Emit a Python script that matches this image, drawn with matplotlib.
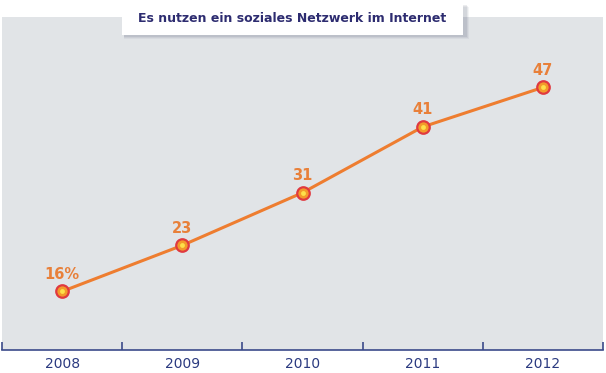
import matplotlib.pyplot as plt
from matplotlib.patches import Rectangle

years = ['2008', '2009', '2010', '2011', '2012']
share = [16, 23, 31, 41, 47]
point_labels = ['16%', '23', '31', '41', '47']
title = 'Es nutzen ein soziales Netzwerk im Internet'

W, H = 606, 373
fig = plt.figure(figsize=(W / 100, H / 100), dpi=100)
fig.patch.set_facecolor('white')

# gray panel = axes
ax = fig.add_axes([2 / W, (H - 350) / H, 601 / W, 333 / H])
ax.set_facecolor('#e1e4e7')
x = list(range(len(years)))
ax.plot(x, share, color='#ee7d30', lw=2.2, zorder=2)
ax.plot(x, share, 'o', ms=9, mfc='#f39a2a', mec='#e0393f', mew=1.6, zorder=3)
ax.plot(x, share, 'o', ms=3.5, mfc='#fde04a', mec='none', zorder=4)
for xi, v, lab in zip(x, share, point_labels):
    ax.annotate(lab, (xi, v), xytext=(0, 7), textcoords='offset points',
                ha='center', va='bottom', color='#e8803a', fontsize=10.5,
                fontweight='bold')

ax.set_xlim(-0.5, 4.5)
ax.set_ylim(7.1, 57.7)
ax.set_yticks([])
ax.set_xticks(x)
ax.set_xticklabels(years, color='#2b3a80', fontsize=10)
ax.set_xticks([i - 0.5 for i in range(6)], minor=True)
ax.tick_params(axis='x', which='major', length=0, pad=5)
ax.tick_params(axis='x', which='minor', direction='in', length=6,
               width=1.2, color='#3b4a8a')
for s in ['top', 'left', 'right']:
    ax.spines[s].set_visible(False)
ax.spines['bottom'].set_color('#3b4a8a')
ax.spines['bottom'].set_linewidth(1.2)

# title box with soft shadow
bx, by, bw, bh = 122, 3, 341, 32
for i, a in enumerate([0.06, 0.08, 0.1]):
    d = 4 - i
    fig.patches.append(Rectangle(((bx + 2) / W, (H - by - bh - d) / H),
                                 (bw + d) / W, (bh) / H,
                                 transform=fig.transFigure,
                                 facecolor='#404a60', alpha=a,
                                 edgecolor='none', zorder=5))
fig.patches.append(Rectangle((bx / W, (H - by - bh) / H), bw / W, bh / H,
                             transform=fig.transFigure, facecolor='white',
                             edgecolor='none', zorder=6))
fig.text((bx + bw / 2) / W, (H - by - bh / 2) / H, title, ha='center',
         va='center', color='#2d2c70', fontsize=9, fontweight='bold',
         zorder=7)

fig.savefig('out.png', dpi=100)
